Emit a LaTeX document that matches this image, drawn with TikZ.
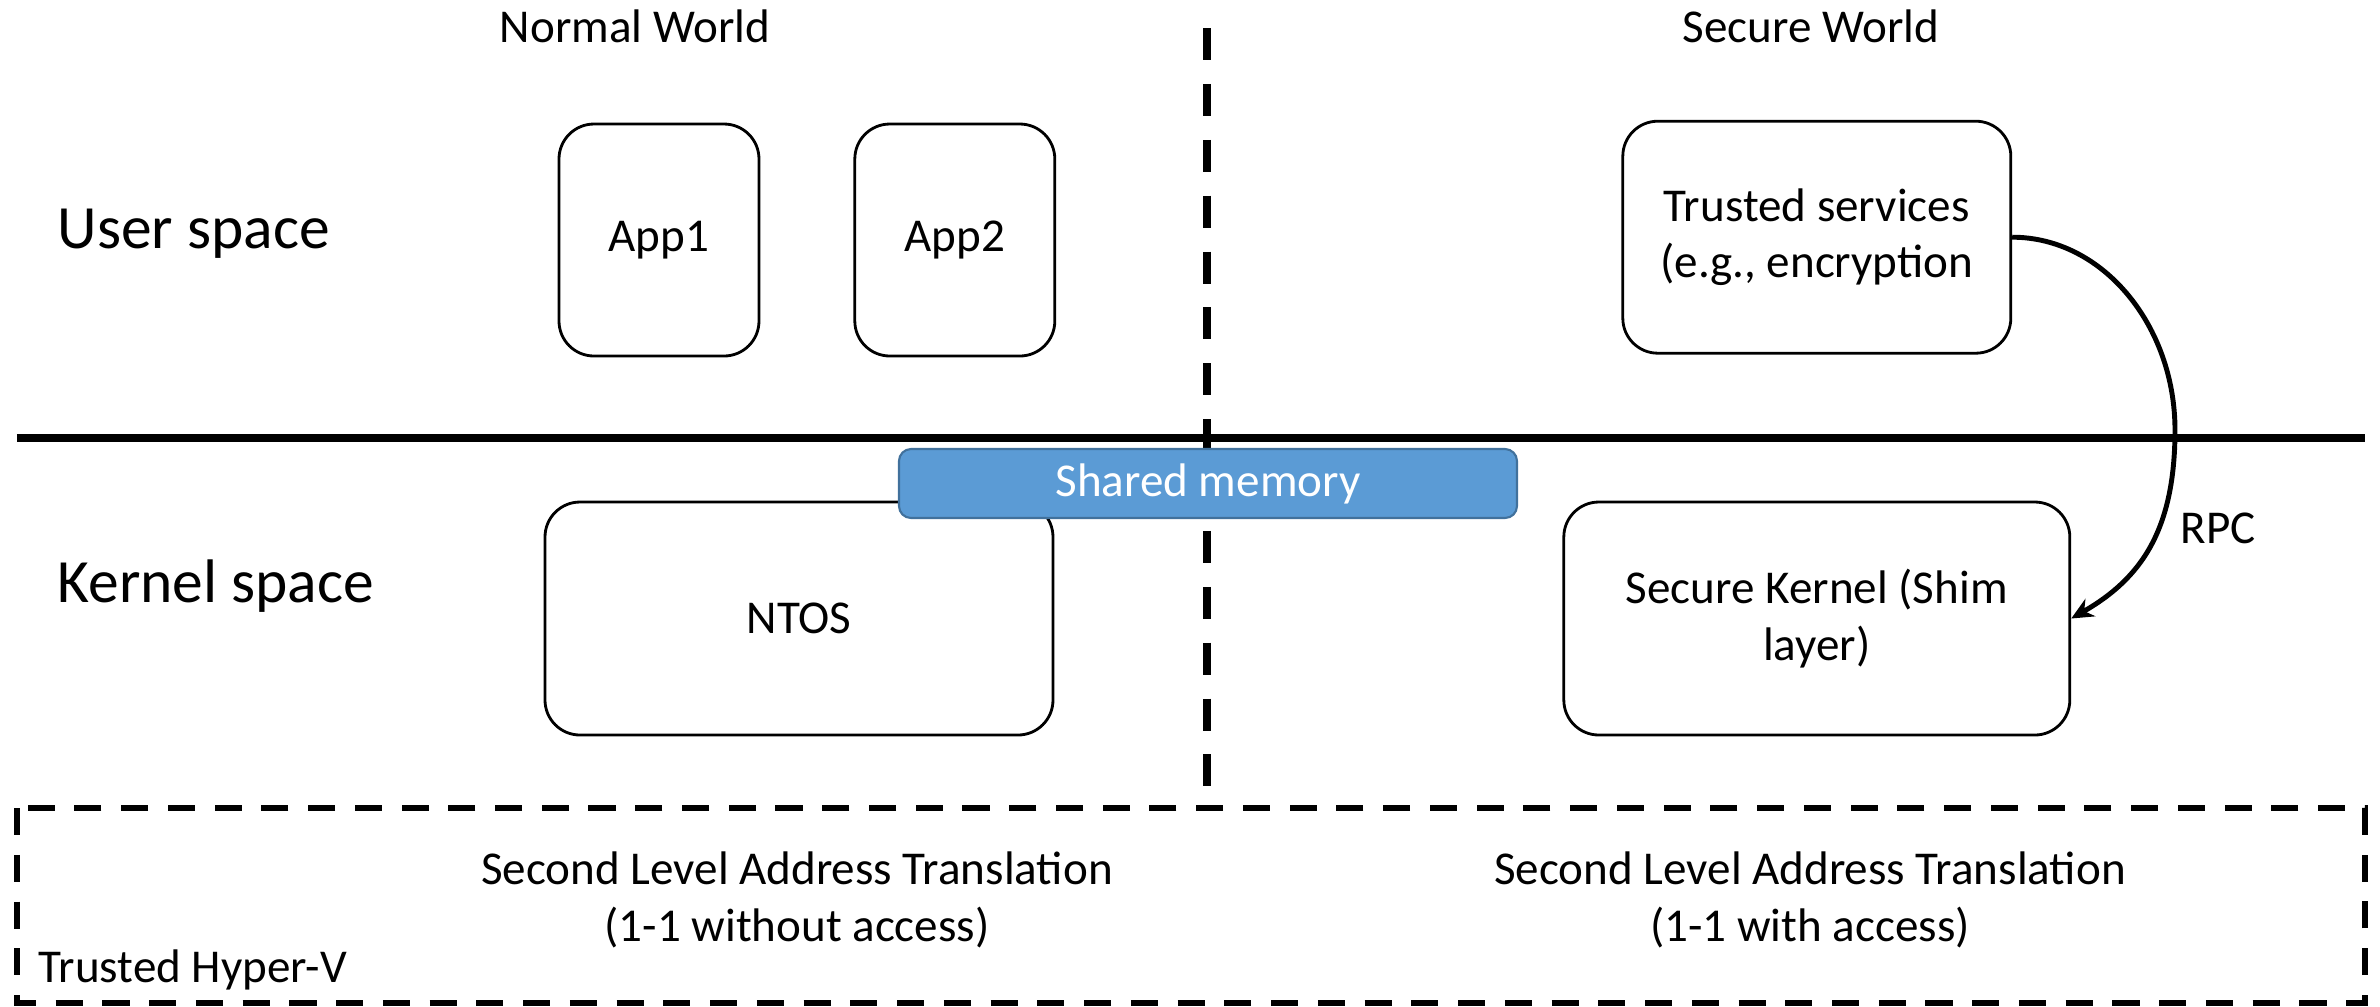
\documentclass[tikz,border=0pt]{standalone}
\usepackage{fontspec}
\setmainfont{Carlito}
\usetikzlibrary{arrows.meta,positioning}
\definecolor{memblue}{HTML}{5B9BD5}
\definecolor{memedge}{HTML}{41719C}
\newcommand{\nrmtxt}{\fontsize{13.4}{16}\selectfont}
\newcommand{\bigtxt}{\fontsize{17.5}{21}\selectfont}

\begin{document}
\begin{tikzpicture}[
    box/.style={draw, line width=0.8pt, rounded corners=0.35cm, align=center, font=\nrmtxt},
    membox/.style={draw=memedge, fill=memblue, line width=0.6pt, rounded corners=0.12cm, minimum width=6.18cm, minimum height=0.69cm, text=white, font=\nrmtxt},
    lbl/.style={inner sep=0pt, font=\nrmtxt},
    spacelbl/.style={inner sep=0pt, font=\bigtxt},
    sepline/.style={line width=2.3pt},
    worldline/.style={line width=2.3pt, dash pattern=on 9.1pt off 6.8pt},
    hvbox/.style={line width=1.9pt, dash pattern=on 7.7pt off 5.6pt},
    rpcarrow/.style={-{Stealth[length=2.2mm, width=2mm]}, line width=1.4pt},
]
\useasboundingbox (0,0) rectangle (23.8,-10.06);

% World and space labels
\node[lbl, anchor=base] (normal) at (6.35,-0.42) {Normal World};
\node[lbl, anchor=base] (secure) at (18.11,-0.42) {Secure World};
\node[spacelbl, anchor=base west] (user) at (0.57,-2.48) {User space};
\node[spacelbl, anchor=base west] (kernel) at (0.57,-6.02) {Kernel space};

% Dividers
\draw[sepline] (0.17,-4.38) -- (23.65,-4.38);
\draw[worldline] (12.07,-0.28) -- (12.07,-7.88);

% User space
\node[box, minimum width=2cm, minimum height=2.32cm] (app1) at (6.59,-2.40) {App1};
\node[box, minimum width=2cm, minimum height=2.32cm, right=0.93cm of app1] (app2) {App2};

% Kernel space
\node[box, minimum width=5.08cm, minimum height=2.33cm] (ntos) at (7.99,-6.185) {NTOS};
\node[box, minimum width=5.06cm, minimum height=2.33cm, right=5.08cm of ntos] (sk) {Secure Kernel (Shim\\layer)};
\node[box, minimum width=3.88cm, minimum height=2.32cm, above=1.46cm of sk] (ts) {Trusted services\\(e.g., encryption};

\node[membox] (shm) at (12.08,-4.835) {Shared memory};

% Hypervisor
\draw[hvbox] (0.17,-8.08) rectangle (23.65,-10.03);
\node[lbl, align=center] (slatn) at (7.97,-9.0) {Second Level Address Translation\\(1-1 without access)};
\node[lbl, align=center] (slats) at (18.10,-9.0) {Second Level Address Translation\\(1-1 with access)};
\node[lbl, anchor=base west] (hyperv) at (0.38,-9.82) {Trusted Hyper-V};

% RPC
\coordinate (rpcbend) at (21.75,-4.30);
\draw[rpcarrow] (ts.east) .. controls +(0.91,0) and +(0,1.04) .. (rpcbend) .. controls +(0,-1.0) and +(0.70,0.40) .. (sk.east);
\node[lbl, anchor=base west] (rpc) at (21.80,-5.43) {RPC};
\end{tikzpicture}
\end{document}
